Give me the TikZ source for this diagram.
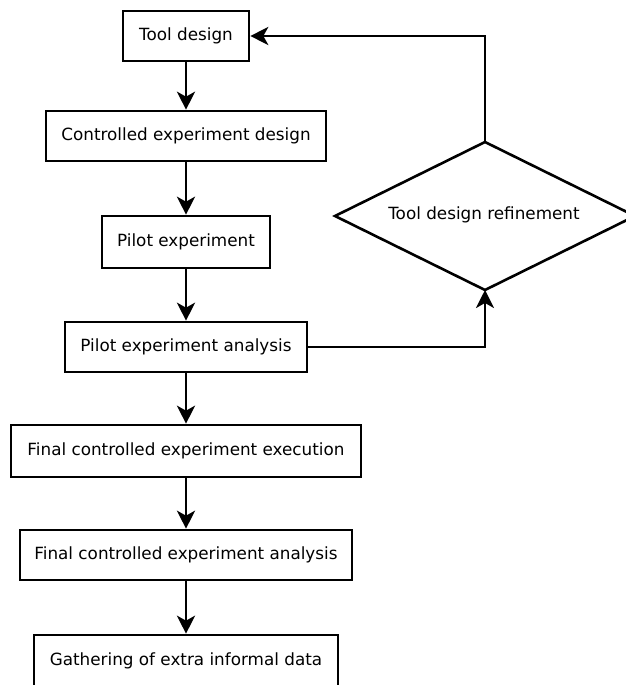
\documentclass[tikz,border=0pt]{standalone}
\usepackage{fontspec}
\setmainfont{DejaVu Sans}
\usetikzlibrary{arrows.meta,shapes.geometric}
\begin{document}
\begin{tikzpicture}[x=1pt,y=-1pt,
  txt/.style={font=\fontsize{16.8}{20}\selectfont},
  box/.style={draw,line width=2.6pt,rectangle,inner sep=0pt,txt},
  flow/.style={line width=2.6pt,-{Stealth[length=18pt,width=18pt,inset=5pt]}}]
\useasboundingbox (0,0) rectangle (626,685);
\node[box,minimum width=126pt,minimum height=50pt] (b1) at (186,36) {Tool design};
\node[box,minimum width=280pt,minimum height=50pt] (b2) at (186,136) {Controlled experiment design};
\node[box,minimum width=168pt,minimum height=52pt] (b3) at (186,242) {Pilot experiment};
\node[box,minimum width=242pt,minimum height=50pt] (b4) at (186,347) {Pilot experiment analysis};
\node[box,minimum width=350pt,minimum height=52pt] (b5) at (186,451) {Final controlled experiment execution};
\node[box,minimum width=332pt,minimum height=50pt] (b6) at (186,555) {Final controlled experiment analysis};
\node[box,minimum width=304pt,minimum height=52pt] (b7) at (186,661) {Gathering of extra informal data};
\coordinate (dt) at (485,142);
\coordinate (db) at (485,290);
\coordinate (dl) at (335,216);
\coordinate (dr) at (635,216);
\draw[line width=2.6pt,line join=miter] (dt) -- (dr) -- (db) -- (dl) -- cycle;
\node[txt] (dtext) at (484,215) {Tool design refinement};
\draw[flow] (b1) -- (b2);
\draw[flow] (b2) -- (b3);
\draw[flow] (b3) -- (b4);
\draw[flow] (b4) -- (b5);
\draw[flow] (b5) -- (b6);
\draw[flow] (b6) -- (b7);
\draw[flow] (b4.east) -| (db);
\draw[flow] (dt) |- (b1.east);
\end{tikzpicture}
\end{document}
